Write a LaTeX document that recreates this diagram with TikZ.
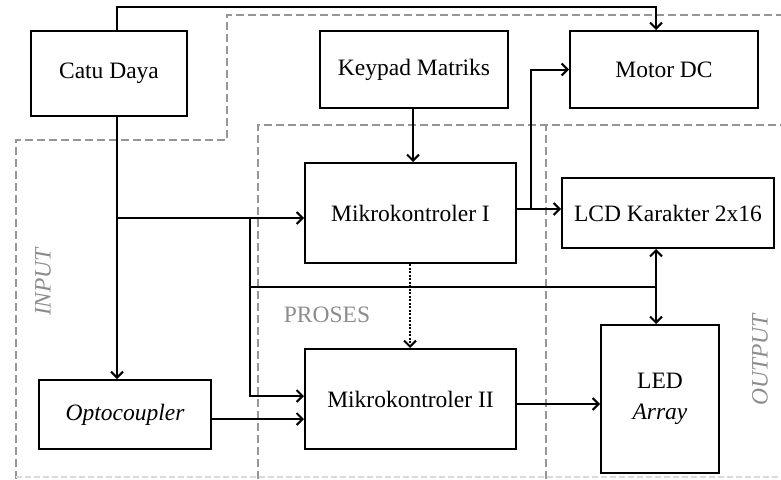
\documentclass[tikz,border=0pt]{standalone}
\usepackage{fontspec}
\setmainfont{Liberation Serif}
\usetikzlibrary{arrows.meta}
\definecolor{lbl}{RGB}{140,140,140}
\definecolor{dsh}{RGB}{150,150,150}
\begin{document}
\begin{tikzpicture}[x=1pt,y=-1pt,
  box/.style={draw, line width=2pt, inner sep=2pt, align=center, font=\fontsize{23.5}{26}\selectfont},
  arr/.style={line width=2pt, -{Straight Barb[length=6pt,width=12pt,line width=2pt]}},
  barr/.style={line width=2pt, {Straight Barb[length=6pt,width=12pt,line width=2pt]}-{Straight Barb[length=6pt,width=12pt,line width=2pt]}},
  conn/.style={line width=2pt},
  region/.style={draw=dsh, line width=1.8pt, dash pattern=on 8pt off 4pt},
  faint/.style={draw=dsh!35, line width=1.2pt, dash pattern=on 6pt off 3pt},
  zonelbl/.style={text=lbl, font=\fontsize{23.5}{26}\selectfont}]
\useasboundingbox (0,0) rectangle (781,479);
% regions
\draw[region] (16,479) -- (16,140) -- (227,140) -- (227,15) -- (781,15);
\draw[region] (258,479) -- (258,125) -- (781,125);
\draw[region] (546,479) -- (546,125);
\draw[faint] (16,477) -- (781,477);
% boxes
\node[box, minimum width=156pt, minimum height=85pt] (cd) at (109,73.5) {Catu Daya};
\node[box, minimum width=188pt, minimum height=77pt] (kp) at (414,69.5) {Keypad Matriks};
\node[box, minimum width=188pt, minimum height=77pt] (motor) at (664,69.5) {Motor DC};
\node[box, minimum width=211pt, minimum height=100pt] (m1) at (410.5,213) {Mikrokontroler I};
\node[box, minimum width=212pt, minimum height=70pt] (lcd) at (668,213) {LCD Karakter 2x16};
\node[box, minimum width=211pt, minimum height=100pt] (m2) at (410.5,399) {Mikrokontroler II};
\node[box, minimum width=172pt, minimum height=69pt] (opto) at (125,414.5) {\itshape Optocoupler};
\node[box, minimum width=118pt, minimum height=148pt] (led) at (660,399) {LED\\[5pt]\itshape Array};
% labels
\node[zonelbl, rotate=90] (linput) at (43,282) {\itshape INPUT};
\node[zonelbl] (lproses) at (327,315) {PROSES};
\node[zonelbl, rotate=90] (loutput) at (760,360) {\itshape OUTPUT};
% coordinates
\coordinate (t1) at (117,7);
\coordinate (t2) at (656,7);
\coordinate (j1) at (117,218);
\coordinate (j2) at (250,218);
\coordinate (j3) at (250,396);
\coordinate (j4) at (250,287);
\coordinate (j5) at (656,287);
\coordinate (r1) at (531,209);
\coordinate (r2) at (531,69.5);
\coordinate (o1) at (0,419);
\coordinate (o2) at (0,404);
\coordinate (kx) at (413,0);
\coordinate (dx) at (410,0);
% connectors
\draw[arr] (cd.north -| t1) -- (t1) -- (t2) -- (motor.north -| t2);
\draw[arr] (cd.south -| t1) -- (opto.north -| t1);
\draw[arr] (j1) -- (m1.west |- j1);
\draw[arr] (j2) -- (j3) -- (m2.west |- j3);
\draw[conn] (j4) -- (j5);
\draw[barr] (lcd.south -| j5) -- (led.north -| j5);
\draw[arr] (kp.south -| kx) -- (m1.north -| kx);
\draw[arr] (m1.east |- r1) -- (lcd.west |- r1);
\draw[arr] (r1) -- (r2) -- (motor.west);
\draw[arr, dash pattern=on 2pt off 1.5pt] (m1.south -| dx) -- (m2.north -| dx);
\draw[arr] (opto.east |- o1) -- (m2.west |- o1);
\draw[arr] (m2.east |- o2) -- (led.west |- o2);
\end{tikzpicture}
\end{document}
